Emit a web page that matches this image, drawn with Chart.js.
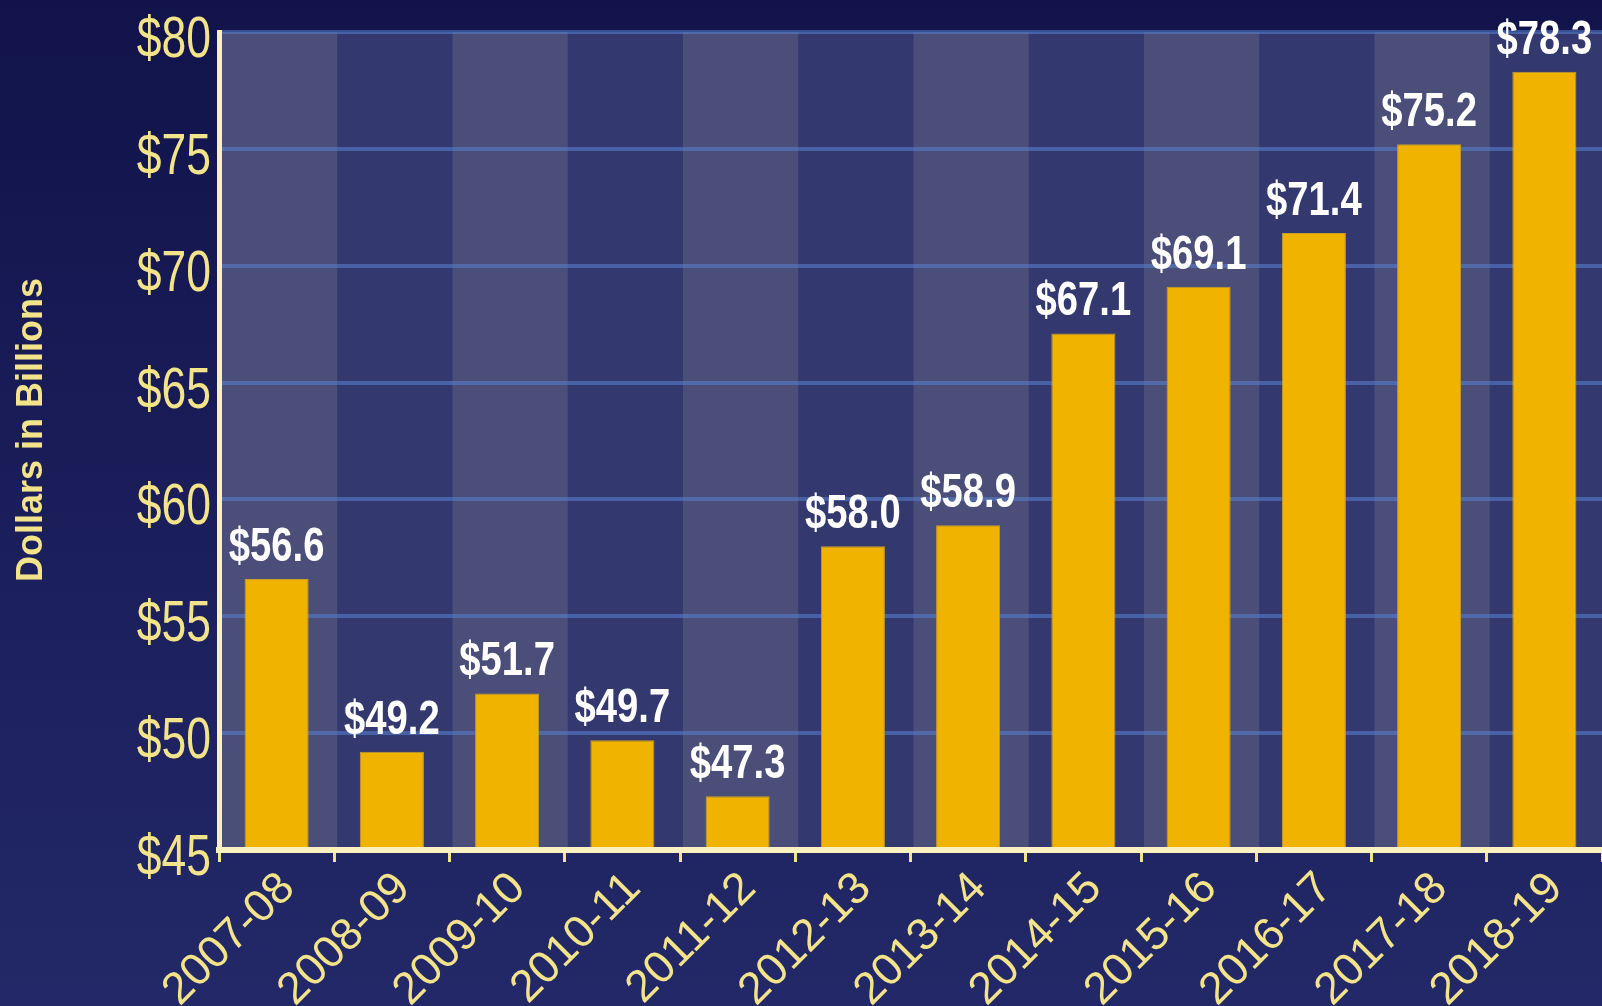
<!DOCTYPE html>
<html>
<head>
<meta charset="utf-8">
<script src="https://cdn.jsdelivr.net/npm/chart.js@4.4.1/dist/chart.umd.min.js"></script>
<style>
    html, body { margin: 0; padding: 0; background: #181b55; }
    canvas { display: block; }
</style>
</head>
<body>
<canvas id="fundingChart" width="1602" height="1006"></canvas>
<script>
// chart data
const years = ['2007-08', '2008-09', '2009-10', '2010-11', '2011-12', '2012-13',
               '2013-14', '2014-15', '2015-16', '2016-17', '2017-18', '2018-19'];
const amounts = [56.6, 49.2, 51.7, 49.7, 47.3, 58.0, 58.9, 67.1, 69.1, 71.4, 75.2, 78.3];
const yMin = 45;
const yMax = 80;
const yStep = 5;
const yTitle = 'Dollars in Billions';

const baseFont = "'Liberation Sans', Arial, sans-serif";
const yellow = '#f3e38a';
const cream = '#fbf0bf';

// no narrow font installed, so squeeze Arial-metric text horizontally
function squeezedText(ctx, text, x, y, sx, align) {
    ctx.save();
    ctx.translate(x, y);
    ctx.scale(sx, 1);
    ctx.textAlign = align;
    ctx.fillText(text, 0, 0);
    ctx.restore();
}

// page background + alternating column bands
const backdropPlugin = {
    id: 'backdrop',
    beforeDraw(chart) {
        const ctx = chart.ctx;
        const area = chart.chartArea;
        const x = chart.scales.x;

        const grad = ctx.createLinearGradient(0, 0, 0, chart.height);
        grad.addColorStop(0, '#11134a');
        grad.addColorStop(1, '#232868');
        ctx.save();
        ctx.fillStyle = grad;
        ctx.fillRect(0, 0, chart.width, chart.height);

        ctx.fillStyle = '#33386e';
        ctx.fillRect(area.left, area.top, area.right - area.left, area.bottom - area.top);

        const step = (x.right - x.left) / years.length;
        ctx.fillStyle = '#4a4e78';
        years.forEach((y, i) => {
            if (i % 2 !== 0) return;
            const center = x.getPixelForValue(i);
            ctx.fillRect(center - step / 2 + 3, area.top, step, area.bottom - area.top);
        });
        ctx.restore();
    }
};

// value labels above each bar
const valueLabelPlugin = {
    id: 'valueLabels',
    afterDatasetsDraw(chart) {
        const ctx = chart.ctx;
        const meta = chart.getDatasetMeta(0);
        ctx.save();
        ctx.fillStyle = '#ffffff';
        ctx.font = 'bold 49px ' + baseFont;
        ctx.textBaseline = 'alphabetic';
        meta.data.forEach((bar, i) => {
            squeezedText(ctx, '$' + amounts[i].toFixed(1), bar.x, bar.y - 18, 0.78, 'center');
        });
        ctx.restore();
    }
};

// axis labels and title, drawn by hand for the condensed look
const axisTextPlugin = {
    id: 'axisText',
    afterDraw(chart) {
        const ctx = chart.ctx;
        const x = chart.scales.x;
        const y = chart.scales.y;
        const area = chart.chartArea;
        ctx.save();
        ctx.fillStyle = yellow;

        // y tick labels
        ctx.font = '57px ' + baseFont;
        ctx.textBaseline = 'alphabetic';
        y.ticks.forEach(t => {
            squeezedText(ctx, '$' + t.value, area.left - 8, y.getPixelForValue(t.value) + 25, 0.78, 'right');
        });

        // x category labels, rotated 45 degrees
        ctx.font = '45px ' + baseFont;
        years.forEach((label, i) => {
            ctx.save();
            ctx.translate(x.getPixelForValue(i) + 20, area.bottom + 40);
            ctx.rotate(-Math.PI / 4);
            ctx.textAlign = 'right';
            ctx.fillText(label, 0, 0);
            ctx.restore();
        });

        // y axis title
        ctx.font = 'bold 36px ' + baseFont;
        ctx.translate(32, 430);
        ctx.rotate(-Math.PI / 2);
        ctx.textAlign = 'center';
        ctx.textBaseline = 'middle';
        ctx.fillText(yTitle, 0, 0);
        ctx.restore();
    }
};

const ctx = document.getElementById('fundingChart').getContext('2d');
const fundingChart = new Chart(ctx, {
    type: 'bar',
    data: {
        labels: years,
        datasets: [{
            data: amounts,
            backgroundColor: '#f0b400',
            borderColor: '#c99c2a',
            borderWidth: 1,
            categoryPercentage: 1.0,
            barPercentage: 0.556
        }]
    },
    options: {
        responsive: false,
        animation: false,
        layout: {
            padding: { top: 32, right: 0, bottom: 0, left: 0 }
        },
        plugins: {
            legend: { display: false },
            tooltip: { enabled: false }
        },
        scales: {
            x: {
                grid: {
                    drawOnChartArea: false,
                    color: yellow,
                    lineWidth: 3,
                    tickLength: 12,
                    offset: true
                },
                border: { display: true, color: cream, width: 6, z: 1 },
                ticks: { display: false },
                afterFit(scale) {
                    scale.height = 156;
                }
            },
            y: {
                min: yMin,
                max: yMax,
                grid: {
                    color: 'rgba(90, 130, 210, 0.55)',
                    lineWidth: 4,
                    drawTicks: false
                },
                border: { display: true, color: cream, width: 5, z: 1 },
                ticks: { stepSize: yStep, display: false },
                afterFit(scale) {
                    scale.width = 219;
                }
            }
        }
    },
    plugins: [backdropPlugin, valueLabelPlugin, axisTextPlugin]
});
</script>
</body>
</html>
